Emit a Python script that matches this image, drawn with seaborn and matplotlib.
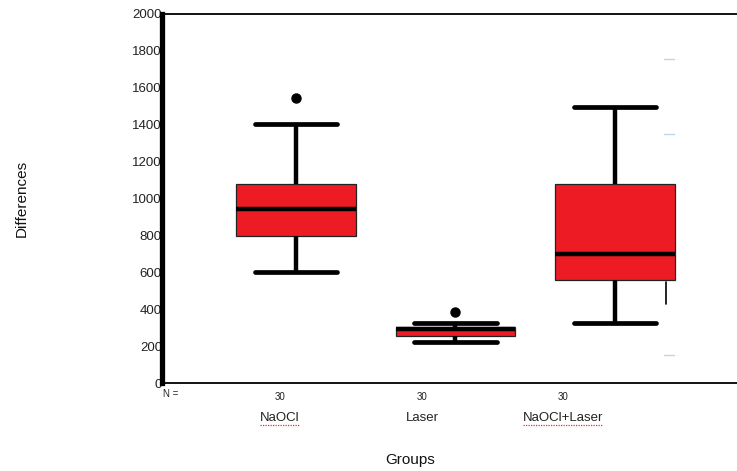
import numpy as np
import pandas as pd
import matplotlib
matplotlib.use("Agg")
import matplotlib.pyplot as plt
import matplotlib.transforms as mtransforms
from matplotlib.lines import Line2D
import seaborn as sns

# values (whisker ends, quartiles, median, outliers)
groups = ["NaOCl", "Laser", "NaOCl+Laser"]
naocl = [600, 700, 797, 870, 942, 1000, 1077, 1403, 1540]
laser = [222, 240, 252, 270, 290, 296, 302, 325, 385]
naocl_laser = [326, 450, 557, 630, 697, 900, 1077, 1300, 1496]
n_labels = ["30", "30", "30"]
label_pos = [-0.10, 0.79, 1.674]   # where the N / group labels sit
yticks = list(range(0, 2001, 200))

df = pd.DataFrame({
    "group": np.repeat(groups, [len(naocl), len(laser), len(naocl_laser)]),
    "diff": naocl + laser + naocl_laser,
})

sns.set_style("white")
plt.rcParams["font.family"] = ["Liberation Sans", "DejaVu Sans"]

fig = plt.figure(figsize=(7.37, 4.71), dpi=100)
ax = fig.add_axes([162 / 737, 1 - 383 / 471, (737 - 162) / 737, (383 - 13.5) / 471])

sns.boxplot(data=df, x="group", y="diff", order=groups, ax=ax,
            color="#ED1C24", saturation=1, width=0.75, whis=1.5,
            linecolor="black", capwidths=0.515,
            boxprops=dict(linewidth=0.9, edgecolor="#222222"),
            medianprops=dict(linewidth=3.2, color="black"),
            whiskerprops=dict(linewidth=3.2, color="black"),
            capprops=dict(linewidth=3.4, color="black"),
            flierprops=dict(marker="o", markerfacecolor="black",
                            markeredgecolor="black", markersize=6.5))

ax.set_xlim(-0.84, 2.765)
ax.set_ylim(0, 2000)
ax.set_yticks(yticks)
ax.set_yticklabels([str(v) for v in yticks], fontsize=9.5, color="#222222")
ax.tick_params(axis="y", length=0, pad=0)
ax.set_xticks(label_pos)
ax.set_xticklabels(n_labels, fontsize=7, color="#222222")
ax.tick_params(axis="x", length=2.5, width=2.5, pad=4, color="black")
ax.set_xlabel("")
ax.set_ylabel("")

ax.spines["right"].set_visible(False)
ax.spines["left"].set_linewidth(3.8)
ax.spines["top"].set_linewidth(1.3)
ax.spines["bottom"].set_linewidth(1.3)
for s in ax.spines.values():
    s.set_color("black")

fig.text(163 / 737, 1 - 394 / 471, "N =", fontsize=7, color="#222222",
         ha="left", va="center")

trans = mtransforms.blended_transform_factory(ax.transData, fig.transFigure)
name_texts = []
for pos, name in zip(label_pos, groups):
    t = ax.text(pos, 1 - 418 / 471, name, transform=trans, fontsize=9.5,
                color="#222222", ha="center", va="center")
    name_texts.append(t)

fig.text(410 / 737, 1 - 460 / 471, "Groups", fontsize=11, ha="center",
         va="center", color="#111111")
fig.text(22 / 737, 1 - 198 / 471, "Differences", fontsize=11, ha="center",
         va="center", rotation=90, color="#111111")

# spell-check squiggle under the NaOCl labels, as in the pasted image
fig.canvas.draw()
for t in name_texts:
    if "NaOCl" in t.get_text():
        bb = t.get_window_extent()
        fig.add_artist(Line2D([bb.x0, bb.x1], [bb.y0 - 1, bb.y0 - 1],
                              transform=mtransforms.IdentityTransform(),
                              color="#E03030", lw=0.9, ls=(0, (1, 1))))

# stray marks left in the original figure
ax.plot([2.32, 2.32], [425, 545], color="black", lw=1.2)
for yv in [1755, 1350, 150]:
    ax.plot([2.31, 2.37], [yv, yv], color="#9CC8E0", lw=1.0, alpha=0.7)

fig.savefig("out.png", dpi=100)
